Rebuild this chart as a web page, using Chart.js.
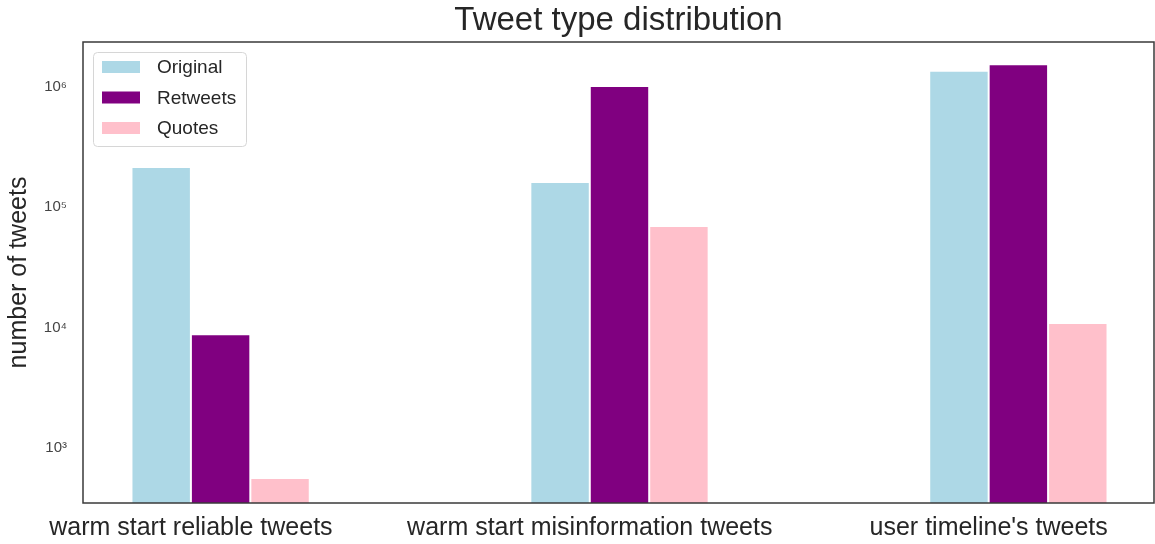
<!DOCTYPE html>
<html>
<head>
<meta charset="utf-8">
<title>Tweet type distribution</title>
<script src="https://cdn.jsdelivr.net/npm/chart.js@4.4.1/dist/chart.umd.min.js"></script>
<style>
  html, body { margin: 0; padding: 0; background: #fff; overflow: hidden; }
  #chart { display: block; }
</style>
</head>
<body>
<canvas id="chart" width="1155" height="544"></canvas>
<script>
// Tweet counts per collection (log scale)
const categories = ["warm start reliable tweets", "warm start misinformation tweets", "user timeline's tweets"];
const original = [215000, 161000, 1350000];
const retweets = [8800, 1010000, 1530000];
const quotes = [565, 69500, 10900];
const yTickValues = [1e3, 1e4, 1e5, 1e6];
const yTickLabels = ["10³", "10⁴", "10⁵", "10⁶"];

const FONT = "'Liberation Sans', Arial, Helvetica, sans-serif";
const TEXT = "#262626";

// Each group spans 0.447 of a category slot; three bars per group
const GROUP_WIDTH = 0.447;
const BAR_WIDTH = GROUP_WIDTH / 3;
// Category ticks sit on the left edge of the middle bar
const TICK_SHIFT = -BAR_WIDTH / 2;

const toPoints = vals => vals.map((v, i) => ({ x: i, y: v }));

// Full frame around the plotting area
const framePlugin = {
  id: 'frame',
  afterDatasetsDraw(chart) {
    const { ctx, chartArea: a } = chart;
    ctx.save();
    ctx.strokeStyle = '#3a3a3a';
    ctx.lineWidth = 1.5;
    ctx.strokeRect(a.left, a.top, a.right - a.left, a.bottom - a.top);
    ctx.restore();
  }
};

// Legend boxed in the upper-left corner of the plot
const innerLegend = {
  id: 'innerLegend',
  afterDraw(chart) {
    const { ctx, chartArea: a } = chart;
    const x0 = a.left + 10, y0 = a.top + 10, w = 153, h = 94, r = 4;
    ctx.save();
    ctx.beginPath();
    ctx.roundRect(x0 + 0.5, y0 + 0.5, w, h, r);
    ctx.fillStyle = 'rgba(255,255,255,0.85)';
    ctx.fill();
    ctx.strokeStyle = '#d6d6d6';
    ctx.lineWidth = 1;
    ctx.stroke();
    ctx.font = '19px ' + FONT;
    ctx.textBaseline = 'middle';
    chart.data.datasets.forEach((ds, i) => {
      const cy = y0 + 15 + i * 30.5;
      ctx.fillStyle = ds.backgroundColor;
      ctx.fillRect(x0 + 9, cy - 6, 38, 12);
      ctx.fillStyle = TEXT;
      ctx.fillText(ds.label, x0 + 64, cy + 1);
    });
    ctx.restore();
  }
};

new Chart(document.getElementById('chart'), {
  type: 'bar',
  data: {
    datasets: [
      { label: 'Original', data: toPoints(original), backgroundColor: '#ADD8E6' },
      { label: 'Retweets', data: toPoints(retweets), backgroundColor: '#800080' },
      { label: 'Quotes', data: toPoints(quotes), backgroundColor: '#FFC0CB' }
    ]
  },
  options: {
    responsive: false,
    maintainAspectRatio: false,
    animation: false,
    devicePixelRatio: 1,
    layout: { padding: { left: 0, right: 1, top: 0, bottom: 0 } },
    datasets: {
      bar: {
        categoryPercentage: GROUP_WIDTH,
        barPercentage: 1.0,
        borderWidth: 1,
        borderColor: 'rgba(255,255,255,0.55)',
        grouped: true
      }
    },
    plugins: {
      legend: { display: false },
      tooltip: { enabled: false },
      title: {
        display: true,
        fullSize: false,
        text: 'Tweet type distribution',
        color: TEXT,
        font: { family: FONT, size: 33, weight: 'normal' },
        padding: { top: 1, bottom: 1.4 }
      }
    },
    scales: {
      x: {
        type: 'linear',
        offset: false,
        min: -0.345,
        max: 2.34,
        grid: { display: false, drawTicks: false, offset: false },
        border: { display: false },
        afterBuildTicks(scale) {
          scale.ticks = categories.map((_, i) => ({ value: i + TICK_SHIFT }));
        },
        afterFit(scale) { scale.height = 41; },
        ticks: {
          autoSkip: false,
          maxRotation: 0,
          padding: 10,
          color: TEXT,
          font: { family: FONT, size: 25 },
          callback: (v, idx) => categories[idx]
        }
      },
      y: {
        type: 'logarithmic',
        min: 350,
        max: 2340000,
        grid: { display: false, drawTicks: false },
        border: { display: false },
        afterBuildTicks(scale) {
          scale.ticks = yTickValues.map(v => ({ value: v }));
        },
        afterFit(scale) { scale.width = 83; },
        ticks: {
          padding: 16,
          color: '#444',
          font: { family: FONT, size: 15 },
          callback: (v, idx) => yTickLabels[idx]
        },
        title: {
          display: true,
          text: 'number of tweets',
          color: TEXT,
          font: { family: FONT, size: 25 },
          padding: { top: 4, bottom: 0 }
        }
      }
    }
  },
  plugins: [framePlugin, innerLegend]
});
</script>
</body>
</html>
